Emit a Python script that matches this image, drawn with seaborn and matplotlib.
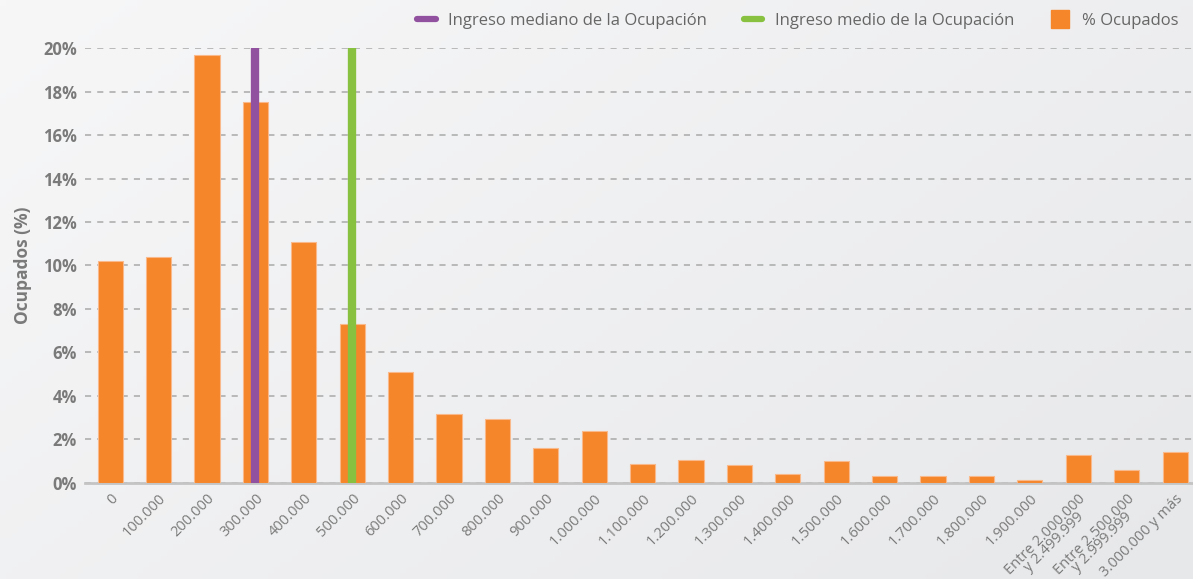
import matplotlib
matplotlib.use("Agg")
import matplotlib.pyplot as plt
import seaborn as sns
import numpy as np
from matplotlib.lines import Line2D

# Tramos de ingreso (eje x) y porcentaje de ocupados
categorias = [
    "0", "100.000", "200.000", "300.000", "400.000", "500.000", "600.000",
    "700.000", "800.000", "900.000", "1.000.000", "1.100.000", "1.200.000",
    "1.300.000", "1.400.000", "1.500.000", "1.600.000", "1.700.000",
    "1.800.000", "1.900.000", "Entre 2.000.000\ny 2.499.999",
    "Entre 2.500.000\ny 2.999.999", "3.000.000 y más",
]
ocupados = [
    10.2, 10.4, 19.7, 17.5, 11.1, 7.3, 5.1, 3.15, 2.95, 1.6, 2.4, 0.85,
    1.05, 0.8, 0.4, 1.0, 0.33, 0.3, 0.3, 0.14, 1.3, 0.6, 1.4,
]
yticks = [0, 2, 4, 6, 8, 10, 12, 14, 16, 18, 20]

# Tramo donde cae el ingreso mediano y el medio
tramo_mediano = "300.000"
tramo_medio = "500.000"

naranja = "#f5862a"
morado = "#92519e"
verde = "#87c13f"
gris = "#7a7a7a"

sns.set_theme(style="white")
plt.rcParams['font.family'] = ['Open Sans', 'DejaVu Sans']

fig = plt.figure(figsize=(11.93, 5.79), dpi=100)

# fondo con degradado suave
bg = fig.add_axes([0, 0, 1, 1], zorder=-10)
gx, gy = np.meshgrid(np.linspace(0, 1, 200), np.linspace(0, 1, 100))
grad = 0.6 * gx + 0.4 * gy
c0 = np.array([0xf7, 0xf7, 0xf8]) / 255
c1 = np.array([0xe7, 0xe8, 0xea]) / 255
img = c0[None, None, :] * (1 - grad[..., None]) + c1[None, None, :] * grad[..., None]
bg.imshow(img, aspect="auto", extent=[0, 1, 0, 1], origin="upper")
bg.axis("off")

ax = fig.add_axes([0.0713, 0.166, 0.9287, 0.751])
ax.patch.set_alpha(0)

sns.barplot(x=categorias, y=ocupados, color=naranja, saturation=1,
            width=0.52, edgecolor="#f9b98a", linewidth=0.8, ax=ax, zorder=3)

# líneas de ingreso mediano y medio
ax.vlines(categorias.index(tramo_mediano), 0, yticks[-1], color=morado,
          linewidth=6, zorder=4)
ax.vlines(categorias.index(tramo_medio), 0, yticks[-1], color=verde,
          linewidth=6, zorder=4)

ax.set_xlim(-0.52, len(categorias) - 1 + 0.37)
ax.set_ylim(0, 20)
ax.set_yticks(yticks)
ax.set_yticklabels([f"{v}%" for v in yticks], fontsize=12,
                   fontweight="bold", color=gris)
ax.set_xticks(range(len(categorias)))
ax.set_xticklabels(categorias, rotation=45, ha="right",
                   rotation_mode="anchor", fontsize=10.5, color=gris,
                   multialignment="center", linespacing=0.7)
ax.tick_params(axis="both", length=0, pad=6)
ax.tick_params(axis="x", pad=6)

ax.yaxis.grid(True, linestyle=(0, (4, 4)), color="#a9a9a9", linewidth=1.1)
ax.set_axisbelow(True)
for s in ["top", "right", "left"]:
    ax.spines[s].set_visible(False)
ax.spines["bottom"].set_color("#c4c4c4")
ax.spines["bottom"].set_linewidth(2)

ax.set_xlabel("")
ax.set_ylabel("Ocupados (%)", fontsize=12.5, fontweight="bold", color=gris,
              labelpad=8)

handles = [
    Line2D([], [], color=morado, linewidth=4.5),
    Line2D([], [], color=verde, linewidth=4.5),
    Line2D([], [], color=naranja, marker="s", markersize=13.5, linestyle="none"),
]
labels = ["Ingreso mediano de la Ocupación", "Ingreso medio de la Ocupación",
          "% Ocupados"]
leg = fig.legend(handles, labels, loc="upper right", bbox_to_anchor=(1.0, 1.004),
                 ncol=3, frameon=False, fontsize=12, handlelength=1.1,
                 columnspacing=2.2, handletextpad=0.75)
for t in leg.get_texts():
    t.set_color("#666666")

fig.savefig("out.png", dpi=100)
